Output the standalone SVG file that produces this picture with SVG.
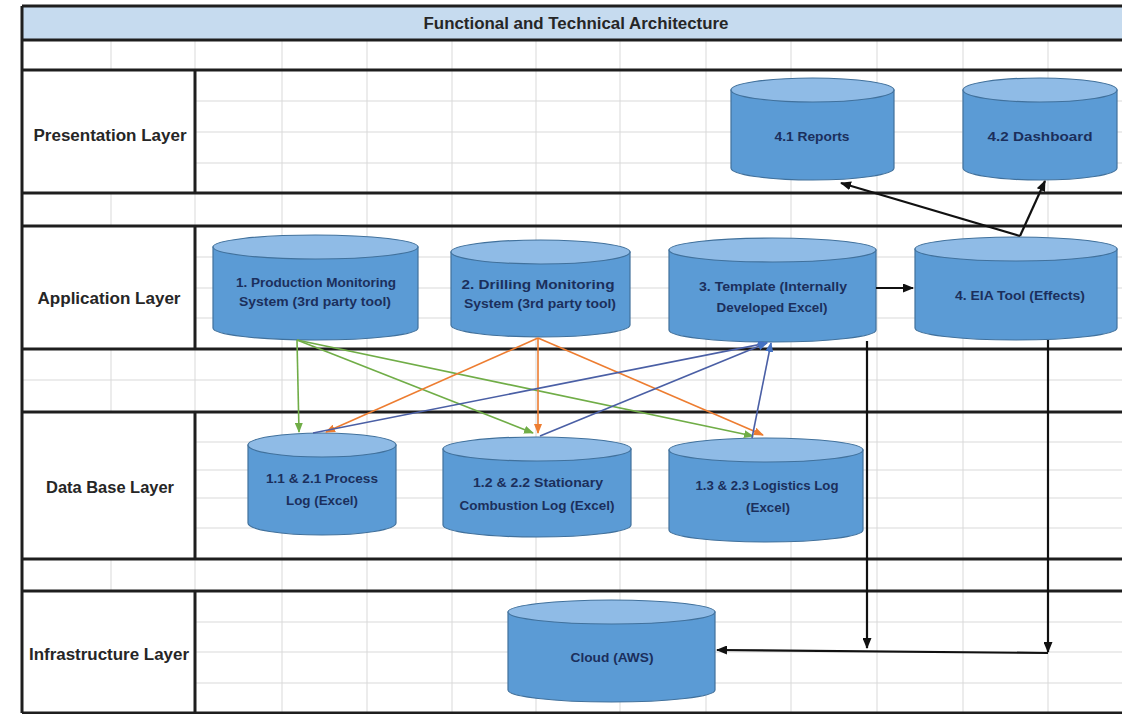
<svg xmlns="http://www.w3.org/2000/svg" width="1122" height="714" viewBox="0 0 1122 714">
<style>
.grid{stroke:#d9d9d9;stroke-width:1;fill:none}
.thick{stroke:#1e1e1e;stroke-width:3;fill:none}
.lbl{font-family:"Liberation Sans",Arial,sans-serif;font-weight:bold;font-size:16px;fill:#262626;text-anchor:middle;dominant-baseline:central}
.cyl .body{fill:#5b9bd5;stroke:#41719c;stroke-width:1.2}
.cyl .cap{fill:#8fbbe6;stroke:#41719c;stroke-width:1.2}
.cyl text{font-family:"Liberation Sans",Arial,sans-serif;font-weight:bold;font-size:13px;fill:#1b2f5c;text-anchor:middle;dominant-baseline:central}
.blk{stroke:#111;stroke-width:2.2;fill:none}
.g{stroke:#70ad47;stroke-width:1.6;fill:none}
.o{stroke:#ed7d31;stroke-width:1.6;fill:none}
.b{stroke:#4a5fa5;stroke-width:1.6;fill:none}
</style>
<defs>
<marker id="ah" markerUnits="userSpaceOnUse" markerWidth="11" markerHeight="9" refX="10" refY="4.5" orient="auto"><path d="M0,0 L11,4.5 L0,9 z" fill="#111"/></marker>
<marker id="ahg" markerUnits="userSpaceOnUse" markerWidth="10" markerHeight="8" refX="9" refY="4" orient="auto"><path d="M0,0 L10,4 L0,8 z" fill="#70ad47"/></marker>
<marker id="aho" markerUnits="userSpaceOnUse" markerWidth="10" markerHeight="8" refX="9" refY="4" orient="auto"><path d="M0,0 L10,4 L0,8 z" fill="#ed7d31"/></marker>
<marker id="ahb" markerUnits="userSpaceOnUse" markerWidth="10" markerHeight="8" refX="9" refY="4" orient="auto"><path d="M0,0 L10,4 L0,8 z" fill="#4472c4"/></marker>
</defs>
<rect width="1122" height="714" fill="#ffffff"/>
<g id="table">
<rect x="22" y="6" width="1100" height="34" fill="#c6dbef"/>
<g class="grid">
<path d="M111,40V70 M111,193V226 M111,349V412 M111,559V591"/>
<path d="M195,40V713 M282,40V713 M367,40V713 M452,40V713 M536,40V713 M620,40V713 M706,40V713 M791,40V713 M877,40V713 M963,40V713 M1048,40V713"/>
<path d="M195,101H1122 M195,132H1122 M195,163H1122 M195,257H1122 M195,288H1122 M195,318H1122 M22,380H1122 M195,442H1122 M195,470H1122 M195,498H1122 M195,528H1122 M195,622H1122 M195,652H1122 M195,683H1122"/>
</g>
<g class="thick">
<path d="M22,6H1122 M22,40H1122 M22,70H1122 M22,193H1122 M22,226H1122 M22,349H1122 M22,412H1122 M22,559H1122 M22,591H1122 M22,713H1122"/>
<path d="M22,6V713"/>
<path d="M195,70V193 M195,226V349 M195,412V559 M195,591V713"/>
</g>
<text x="576" y="23" class="lbl" font-size="15" textLength="305" lengthAdjust="spacingAndGlyphs">Functional and Technical Architecture</text>
<text x="110" y="135" class="lbl" textLength="153" lengthAdjust="spacingAndGlyphs">Presentation Layer</text>
<text x="109" y="298" class="lbl" textLength="143" lengthAdjust="spacingAndGlyphs">Application Layer</text>
<text x="110" y="487" class="lbl" textLength="128" lengthAdjust="spacingAndGlyphs">Data Base Layer</text>
<text x="109" y="654" class="lbl" textLength="160" lengthAdjust="spacingAndGlyphs">Infrastructure Layer</text>
</g>
<g id="n41" class="cyl">
<path class="body" d="M731,90 V168 A81.5,12 0 0 0 894,168 V90 Z"/>
<ellipse class="cap" cx="812.5" cy="90" rx="81.5" ry="12"/>
<text x="812" y="136" textLength="75" lengthAdjust="spacingAndGlyphs">4.1 Reports</text>
</g>
<g id="n42" class="cyl">
<path class="body" d="M963,90 V168 A77,12 0 0 0 1117,168 V90 Z"/>
<ellipse class="cap" cx="1040" cy="90" rx="77" ry="12"/>
<text x="1040" y="136" textLength="105" lengthAdjust="spacingAndGlyphs">4.2 Dashboard</text>
</g>
<g id="n1" class="cyl">
<path class="body" d="M213,247 V328 A102.5,12 0 0 0 418,328 V247 Z"/>
<ellipse class="cap" cx="315.5" cy="247" rx="102.5" ry="12"/>
<text x="316" y="282" textLength="160" lengthAdjust="spacingAndGlyphs">1. Production  Monitoring</text>
<text x="315" y="301" textLength="152" lengthAdjust="spacingAndGlyphs">System (3rd party tool)</text>
</g>
<g id="n2" class="cyl">
<path class="body" d="M451,252 V325 A89.5,12 0 0 0 630,325 V252 Z"/>
<ellipse class="cap" cx="540.5" cy="252" rx="89.5" ry="12"/>
<text x="538" y="284" textLength="153" lengthAdjust="spacingAndGlyphs">2. Drilling Monitoring</text>
<text x="540" y="303" textLength="152" lengthAdjust="spacingAndGlyphs">System (3rd party tool)</text>
</g>
<g id="n3" class="cyl">
<path class="body" d="M669,250 V330 A103.5,12 0 0 0 876,330 V250 Z"/>
<ellipse class="cap" cx="772.5" cy="250" rx="103.5" ry="12"/>
<text x="773" y="286" textLength="148" lengthAdjust="spacingAndGlyphs">3. Template (Internally</text>
<text x="772" y="307" textLength="111" lengthAdjust="spacingAndGlyphs">Developed Excel)</text>
</g>
<g id="n4" class="cyl">
<path class="body" d="M915,249 V328 A101,12 0 0 0 1117,328 V249 Z"/>
<ellipse class="cap" cx="1016" cy="249" rx="101" ry="12"/>
<text x="1020" y="295" textLength="130" lengthAdjust="spacingAndGlyphs">4. EIA Tool (Effects)</text>
</g>
<g id="n11" class="cyl">
<path class="body" d="M248,445 V523 A74,12 0 0 0 396,523 V445 Z"/>
<ellipse class="cap" cx="322" cy="445" rx="74" ry="12"/>
<text x="322" y="478" textLength="112" lengthAdjust="spacingAndGlyphs">1.1 &amp; 2.1 Process</text>
<text x="322" y="500" textLength="72" lengthAdjust="spacingAndGlyphs">Log (Excel)</text>
</g>
<g id="n12" class="cyl">
<path class="body" d="M443,449 V525 A94,12 0 0 0 631,525 V449 Z"/>
<ellipse class="cap" cx="537" cy="449" rx="94" ry="12"/>
<text x="538" y="482" textLength="130" lengthAdjust="spacingAndGlyphs">1.2 &amp; 2.2 Stationary</text>
<text x="537" y="505" textLength="155" lengthAdjust="spacingAndGlyphs">Combustion  Log (Excel)</text>
</g>
<g id="n13" class="cyl">
<path class="body" d="M669,450 V530 A97,12 0 0 0 863,530 V450 Z"/>
<ellipse class="cap" cx="766" cy="450" rx="97" ry="12"/>
<text x="767" y="485" textLength="143" lengthAdjust="spacingAndGlyphs">1.3 &amp; 2.3 Logistics Log</text>
<text x="768" y="507" textLength="44" lengthAdjust="spacingAndGlyphs">(Excel)</text>
</g>
<g id="cloud" class="cyl">
<path class="body" d="M508,612 V690 A103.5,12 0 0 0 715,690 V612 Z"/>
<ellipse class="cap" cx="611.5" cy="612" rx="103.5" ry="12"/>
<text x="612" y="657" textLength="83" lengthAdjust="spacingAndGlyphs">Cloud  (AWS)</text>
</g>
<g id="connectors">
<path class="blk" d="M876,288 H913" marker-end="url(#ah)"/>
<path class="blk" d="M1020,236 L841,183" marker-end="url(#ah)"/>
<path class="blk" d="M1020,236 L1045,181" marker-end="url(#ah)"/>
<path class="blk" d="M867,341 V648" marker-end="url(#ah)"/>
<path class="blk" d="M1048,340 V652" marker-end="url(#ah)"/>
<path class="blk" d="M1048,653 L717,650" marker-end="url(#ah)"/>
<path class="g" d="M297,340 L299,432" marker-end="url(#ahg)"/>
<path class="g" d="M297,340 L533,433" marker-end="url(#ahg)"/>
<path class="g" d="M297,340 L753,436" marker-end="url(#ahg)"/>
<path class="o" d="M538,338 L326,432" marker-end="url(#aho)"/>
<path class="o" d="M538,338 L538,433" marker-end="url(#aho)"/>
<path class="o" d="M538,338 L763,435" marker-end="url(#aho)"/>
<path class="b" d="M313,433 L767,343" marker-end="url(#ahb)"/>
<path class="b" d="M540,436 L767,343" marker-end="url(#ahb)"/>
<path class="b" d="M752,438 L771,343" marker-end="url(#ahb)"/>
</g>
</svg>
